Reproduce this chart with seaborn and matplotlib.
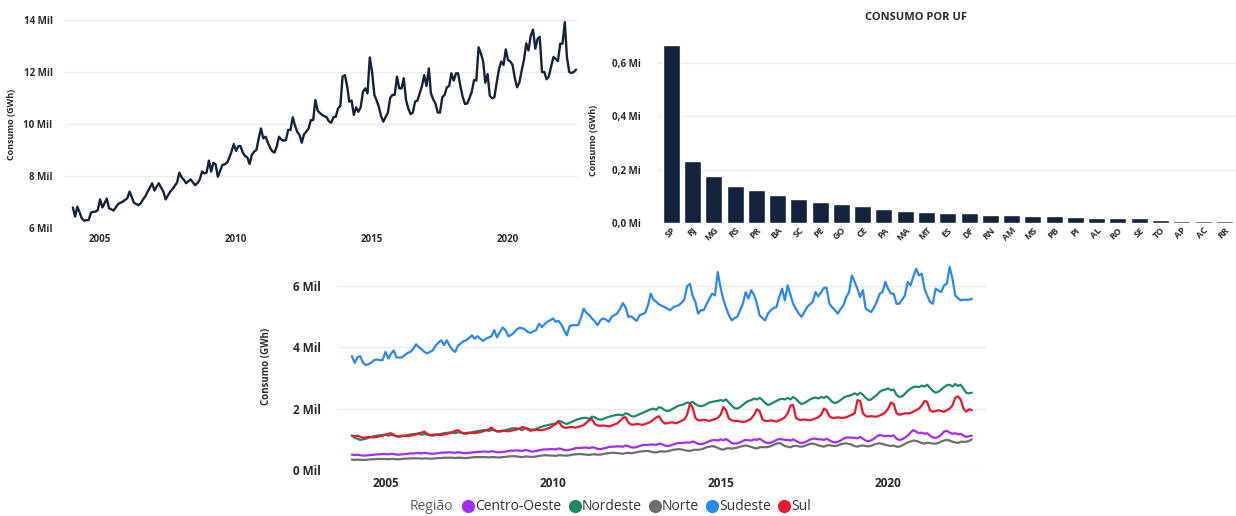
import matplotlib
matplotlib.use("Agg")
import matplotlib.pyplot as plt
import matplotlib.dates as mdates
from matplotlib.ticker import FuncFormatter, FixedLocator
from matplotlib.lines import Line2D
import numpy as np
import pandas as pd
import seaborn as sns

# ---------------- DATA (monthly, thousands of GWh = "Mil") ----------------
START = "2004-01-01"

total_mil = [
    6.79, 6.44, 6.82, 6.60, 6.37, 6.28, 6.30, 6.31, 6.59, 6.62, 6.63, 6.69,
    7.10, 6.79, 6.95, 7.13, 6.76, 6.72, 6.67, 6.80, 6.92, 6.97, 7.01, 7.08,
    7.14, 7.40, 7.20, 6.97, 6.92, 6.88, 6.95, 7.10, 7.22, 7.40, 7.55, 7.72,
    7.44, 7.60, 7.72, 7.55, 7.40, 7.10, 7.25, 7.40, 7.50, 7.62, 7.75, 8.13,
    7.95, 7.85, 7.72, 7.80, 7.87, 7.75, 7.65, 7.72, 7.87, 8.17, 8.10, 8.13,
    8.59, 8.17, 8.51, 8.45, 7.97, 8.20, 8.42, 8.45, 8.51, 8.70, 8.94, 9.23,
    8.97, 9.15, 9.15, 8.90, 8.77, 8.72, 8.46, 8.81, 8.94, 9.00, 9.45, 9.83,
    9.45, 9.51, 9.30, 9.10, 8.95, 8.90, 9.13, 9.51, 9.40, 9.36, 9.38, 9.77,
    9.77, 10.26, 9.95, 9.70, 9.58, 9.28, 9.60, 9.71, 9.83, 10.15, 10.15, 10.92,
    10.51, 10.42, 10.35, 10.30, 10.26, 10.10, 10.05, 10.26, 10.28, 10.60, 10.69, 11.82,
    11.88, 11.44, 10.86, 10.90, 10.35, 10.64, 10.47, 10.64, 11.24, 11.37, 11.18, 12.56,
    12.01, 11.12, 10.92, 10.67, 10.31, 10.09, 10.26, 10.44, 11.00, 11.12, 11.12, 11.82,
    11.37, 11.37, 11.76, 10.92, 10.60, 10.38, 10.44, 10.86, 10.90, 11.18, 11.46, 11.88,
    11.46, 12.14, 11.18, 10.95, 10.79, 10.44, 10.44, 11.03, 11.12, 11.41, 11.46, 11.95,
    11.67, 11.95, 11.95, 11.46, 11.05, 10.77, 10.79, 11.00, 11.24, 11.69, 11.67, 12.95,
    12.72, 12.40, 11.59, 11.92, 11.08, 10.99, 11.03, 11.59, 12.10, 12.40, 12.27, 12.87,
    12.46, 12.40, 12.27, 11.76, 11.41, 11.60, 12.05, 12.46, 13.10, 12.83, 13.40, 13.63,
    12.90, 13.28, 13.35, 12.00, 12.00, 11.72, 11.83, 12.20, 12.58, 12.50, 12.42, 13.09,
    13.09, 13.92, 12.58, 12.00, 11.96, 12.00, 12.09,
]

sudeste = [
    3.71, 3.49, 3.67, 3.71, 3.50, 3.42, 3.45, 3.50, 3.58, 3.60, 3.58, 3.58,
    3.85, 3.63, 3.78, 3.90, 3.67, 3.67, 3.67, 3.75, 3.82, 3.85, 3.95, 4.10,
    4.00, 3.93, 3.85, 3.80, 3.85, 3.90, 4.05, 4.15, 4.23, 4.07, 4.23, 4.05,
    3.92, 3.85, 4.05, 4.12, 4.20, 4.23, 4.30, 4.39, 4.28, 4.36, 4.28, 4.21,
    4.28, 4.32, 4.36, 4.56, 4.32, 4.50, 4.64, 4.56, 4.36, 4.40, 4.47, 4.58,
    4.64, 4.62, 4.58, 4.50, 4.47, 4.52, 4.56, 4.77, 4.66, 4.75, 4.83, 4.88,
    4.94, 4.83, 4.86, 4.75, 4.56, 4.39, 4.69, 4.72, 4.72, 4.72, 4.95, 5.26,
    5.12, 5.05, 4.94, 4.85, 4.72, 4.88, 4.94, 4.90, 4.83, 4.99, 5.05, 5.10,
    5.25, 5.44, 5.31, 4.99, 5.01, 4.93, 4.86, 5.04, 5.08, 5.12, 5.37, 5.75,
    5.55, 5.48, 5.40, 5.35, 5.31, 5.26, 5.21, 5.30, 5.34, 5.37, 5.45, 5.55,
    5.99, 6.07, 5.69, 5.48, 5.10, 5.21, 5.21, 5.40, 5.59, 5.75, 5.69, 6.45,
    5.94, 5.55, 5.30, 5.05, 4.88, 4.95, 4.99, 5.20, 5.42, 5.80, 5.59, 5.86,
    5.70, 5.42, 5.04, 4.95, 4.88, 5.10, 5.21, 5.28, 5.31, 5.64, 5.91, 5.53,
    6.02, 5.70, 5.42, 5.25, 5.10, 4.99, 5.15, 5.31, 5.40, 5.48, 5.80, 5.66,
    5.80, 5.94, 5.94, 5.42, 5.30, 5.21, 5.10, 5.25, 5.37, 5.64, 5.80, 6.34,
    6.13, 5.90, 5.64, 5.86, 5.26, 5.20, 5.15, 5.30, 5.50, 5.75, 5.80, 6.13,
    5.90, 5.75, 5.75, 5.42, 5.42, 5.55, 5.69, 6.13, 6.02, 6.30, 6.56, 6.34,
    6.40, 5.90, 5.69, 5.48, 5.42, 5.91, 5.85, 5.80, 6.02, 6.07, 6.62, 6.24,
    5.69, 5.60, 5.53, 5.55, 5.55, 5.55, 5.58,
]

nordeste = [
    1.12, 1.05, 1.02, 0.98, 1.00, 1.02, 1.05, 1.08, 1.10, 1.12, 1.13, 1.14,
    1.15, 1.12, 1.14, 1.13, 1.10, 1.08, 1.10, 1.12, 1.14, 1.16, 1.17, 1.18,
    1.18, 1.15, 1.17, 1.16, 1.13, 1.12, 1.14, 1.16, 1.18, 1.20, 1.21, 1.22,
    1.22, 1.20, 1.23, 1.22, 1.19, 1.18, 1.20, 1.23, 1.25, 1.27, 1.28, 1.30,
    1.30, 1.27, 1.30, 1.30, 1.26, 1.25, 1.27, 1.30, 1.32, 1.35, 1.36, 1.36,
    1.33, 1.30, 1.36, 1.35, 1.32, 1.31, 1.34, 1.38, 1.41, 1.44, 1.46, 1.48,
    1.50, 1.52, 1.60, 1.58, 1.53, 1.50, 1.54, 1.58, 1.62, 1.66, 1.68, 1.70,
    1.70, 1.66, 1.74, 1.72, 1.66, 1.64, 1.66, 1.70, 1.73, 1.76, 1.78, 1.80,
    1.80, 1.78, 1.85, 1.82, 1.76, 1.74, 1.78, 1.82, 1.86, 1.90, 1.94, 1.98,
    2.00, 1.96, 2.05, 2.02, 1.95, 1.92, 1.95, 2.00, 2.05, 2.10, 2.12, 2.15,
    2.20, 2.18, 2.22, 2.15, 2.10, 2.08, 2.10, 2.15, 2.20, 2.22, 2.24, 2.25,
    2.28, 2.25, 2.30, 2.20, 2.10, 2.02, 2.00, 2.05, 2.12, 2.20, 2.25, 2.28,
    2.33, 2.30, 2.35, 2.28, 2.18, 2.12, 2.15, 2.20, 2.25, 2.30, 2.32, 2.30,
    2.35, 2.30, 2.38, 2.32, 2.22, 2.15, 2.18, 2.24, 2.30, 2.34, 2.36, 2.33,
    2.38, 2.35, 2.40, 2.32, 2.22, 2.18, 2.22, 2.28, 2.35, 2.40, 2.42, 2.45,
    2.50, 2.45, 2.52, 2.45, 2.35, 2.28, 2.30, 2.38, 2.45, 2.55, 2.60, 2.62,
    2.66, 2.60, 2.62, 2.45, 2.38, 2.40, 2.48, 2.58, 2.65, 2.70, 2.72, 2.70,
    2.75, 2.72, 2.78, 2.68, 2.58, 2.52, 2.55, 2.62, 2.70, 2.76, 2.78, 2.72,
    2.80, 2.74, 2.78, 2.65, 2.52, 2.50, 2.52,
]

sul = [
    1.12, 1.10, 1.12, 1.08, 1.05, 1.06, 1.08, 1.07, 1.06, 1.08, 1.10, 1.12,
    1.15, 1.18, 1.20, 1.15, 1.10, 1.10, 1.12, 1.11, 1.10, 1.12, 1.14, 1.16,
    1.20, 1.22, 1.25, 1.18, 1.14, 1.15, 1.16, 1.15, 1.14, 1.16, 1.18, 1.20,
    1.24, 1.27, 1.30, 1.24, 1.20, 1.20, 1.22, 1.21, 1.20, 1.22, 1.24, 1.26,
    1.30, 1.32, 1.38, 1.30, 1.26, 1.27, 1.28, 1.27, 1.26, 1.28, 1.30, 1.32,
    1.35, 1.40, 1.38, 1.32, 1.28, 1.30, 1.32, 1.30, 1.30, 1.32, 1.35, 1.38,
    1.45, 1.50, 1.58, 1.45, 1.38, 1.38, 1.40, 1.40, 1.38, 1.40, 1.43, 1.46,
    1.55, 1.62, 1.66, 1.50, 1.45, 1.44, 1.45, 1.44, 1.42, 1.45, 1.48, 1.52,
    1.60, 1.70, 1.72, 1.55, 1.48, 1.48, 1.50, 1.49, 1.47, 1.50, 1.53, 1.57,
    1.65, 1.72, 1.75, 1.60, 1.52, 1.52, 1.55, 1.55, 1.52, 1.56, 1.60, 1.65,
    1.80, 2.15, 2.05, 1.70, 1.62, 1.62, 1.64, 1.62, 1.60, 1.63, 1.66, 1.70,
    1.80, 2.05, 1.95, 1.68, 1.62, 1.60, 1.60, 1.58, 1.57, 1.58, 1.62, 1.68,
    1.80, 1.98, 1.92, 1.65, 1.60, 1.60, 1.62, 1.60, 1.58, 1.62, 1.66, 1.72,
    1.85, 2.10, 2.12, 1.70, 1.64, 1.63, 1.65, 1.63, 1.62, 1.65, 1.68, 1.72,
    1.80, 2.00, 1.95, 1.75, 1.70, 1.70, 1.72, 1.70, 1.70, 1.72, 1.76, 1.80,
    1.85, 2.28, 2.25, 1.85, 1.76, 1.74, 1.76, 1.74, 1.74, 1.78, 1.82, 1.88,
    2.00, 2.20, 2.15, 1.85, 1.80, 1.82, 1.85, 1.84, 1.86, 1.90, 1.95, 2.00,
    2.10, 2.25, 2.22, 1.95, 1.90, 1.92, 1.95, 1.92, 1.90, 1.95, 2.00, 2.10,
    2.36, 2.40, 2.30, 2.00, 1.90, 1.98, 1.95,
]

centro_oeste = [
    0.50, 0.49, 0.50, 0.48, 0.47, 0.47, 0.48, 0.49, 0.50, 0.51, 0.51, 0.52,
    0.52, 0.51, 0.53, 0.52, 0.50, 0.50, 0.51, 0.52, 0.53, 0.54, 0.54, 0.55,
    0.55, 0.54, 0.56, 0.55, 0.53, 0.53, 0.54, 0.55, 0.56, 0.57, 0.57, 0.58,
    0.57, 0.56, 0.58, 0.57, 0.55, 0.55, 0.56, 0.57, 0.58, 0.59, 0.59, 0.60,
    0.60, 0.59, 0.61, 0.60, 0.58, 0.58, 0.59, 0.60, 0.62, 0.63, 0.63, 0.64,
    0.63, 0.62, 0.65, 0.64, 0.61, 0.60, 0.62, 0.64, 0.66, 0.67, 0.67, 0.68,
    0.68, 0.67, 0.70, 0.69, 0.65, 0.64, 0.66, 0.68, 0.71, 0.72, 0.72, 0.73,
    0.73, 0.71, 0.74, 0.73, 0.69, 0.68, 0.70, 0.72, 0.75, 0.76, 0.76, 0.77,
    0.77, 0.76, 0.80, 0.78, 0.74, 0.73, 0.75, 0.78, 0.81, 0.82, 0.82, 0.83,
    0.83, 0.82, 0.86, 0.84, 0.80, 0.78, 0.80, 0.83, 0.86, 0.88, 0.88, 0.89,
    0.90, 0.89, 0.93, 0.90, 0.85, 0.84, 0.86, 0.90, 0.94, 0.97, 0.98, 0.96,
    1.00, 0.97, 1.01, 0.95, 0.88, 0.86, 0.87, 0.90, 0.95, 0.98, 0.97, 0.96,
    1.00, 0.98, 1.02, 0.96, 0.90, 0.88, 0.89, 0.93, 0.98, 1.01, 1.00, 0.98,
    0.98, 0.96, 1.00, 0.95, 0.90, 0.88, 0.90, 0.94, 0.99, 1.02, 1.02, 1.00,
    1.00, 0.98, 1.02, 0.97, 0.92, 0.90, 0.92, 0.96, 1.02, 1.06, 1.06, 1.05,
    1.05, 1.03, 1.08, 1.02, 0.96, 0.94, 0.97, 1.02, 1.10, 1.14, 1.12, 1.10,
    1.12, 1.10, 1.13, 1.02, 0.98, 1.00, 1.05, 1.12, 1.22, 1.30, 1.25, 1.20,
    1.22, 1.18, 1.20, 1.12, 1.06, 1.05, 1.08, 1.15, 1.25, 1.28, 1.22, 1.18,
    1.20, 1.16, 1.18, 1.12, 1.08, 1.10, 1.12,
]

norte = [
    0.34, 0.33, 0.34, 0.33, 0.33, 0.33, 0.34, 0.35, 0.35, 0.36, 0.36, 0.36,
    0.36, 0.35, 0.36, 0.36, 0.35, 0.35, 0.36, 0.37, 0.37, 0.38, 0.38, 0.38,
    0.38, 0.37, 0.38, 0.38, 0.37, 0.37, 0.38, 0.39, 0.39, 0.40, 0.40, 0.40,
    0.40, 0.39, 0.40, 0.40, 0.39, 0.39, 0.40, 0.41, 0.42, 0.42, 0.42, 0.42,
    0.42, 0.41, 0.42, 0.42, 0.41, 0.41, 0.42, 0.43, 0.44, 0.45, 0.45, 0.44,
    0.43, 0.42, 0.44, 0.44, 0.43, 0.43, 0.44, 0.46, 0.47, 0.48, 0.48, 0.47,
    0.47, 0.46, 0.48, 0.48, 0.47, 0.47, 0.48, 0.50, 0.51, 0.52, 0.52, 0.51,
    0.50, 0.49, 0.51, 0.51, 0.50, 0.50, 0.52, 0.54, 0.55, 0.56, 0.56, 0.55,
    0.54, 0.53, 0.55, 0.56, 0.55, 0.56, 0.58, 0.60, 0.61, 0.62, 0.62, 0.60,
    0.58, 0.57, 0.60, 0.61, 0.60, 0.61, 0.63, 0.66, 0.67, 0.68, 0.67, 0.65,
    0.63, 0.62, 0.65, 0.66, 0.66, 0.67, 0.70, 0.74, 0.76, 0.78, 0.76, 0.72,
    0.68, 0.66, 0.70, 0.71, 0.70, 0.71, 0.73, 0.76, 0.78, 0.80, 0.78, 0.75,
    0.72, 0.70, 0.74, 0.75, 0.74, 0.75, 0.78, 0.82, 0.86, 0.88, 0.84, 0.78,
    0.76, 0.74, 0.78, 0.79, 0.77, 0.76, 0.78, 0.82, 0.85, 0.86, 0.84, 0.80,
    0.78, 0.76, 0.80, 0.81, 0.79, 0.78, 0.80, 0.84, 0.86, 0.87, 0.85, 0.82,
    0.78, 0.76, 0.79, 0.80, 0.78, 0.77, 0.79, 0.83, 0.86, 0.87, 0.85, 0.82,
    0.80, 0.78, 0.80, 0.76, 0.76, 0.80, 0.85, 0.90, 0.93, 0.96, 0.95, 0.92,
    0.88, 0.86, 0.89, 0.88, 0.86, 0.86, 0.88, 0.93, 0.96, 0.98, 0.96, 0.92,
    0.90, 0.88, 0.92, 0.92, 0.92, 0.95, 1.00,
]

uf_labels = ["SP", "RJ", "MG", "RS", "PR", "BA", "SC", "PE", "GO", "CE", "PA", "MA", "MT", "ES",
             "DF", "RN", "AM", "MS", "PB", "PI", "AL", "RO", "SE", "TO", "AP", "AC", "RR"]
uf_consumo_mi = [0.669, 0.231, 0.178, 0.138, 0.122, 0.106, 0.090, 0.077, 0.072, 0.063, 0.053,
                 0.044, 0.040, 0.038, 0.037, 0.031, 0.030, 0.028, 0.027, 0.023, 0.020, 0.019,
                 0.017, 0.012, 0.007, 0.006, 0.006]

region_names = ["Centro-Oeste", "Nordeste", "Norte", "Sudeste", "Sul"]
region_values = [centro_oeste, nordeste, norte, sudeste, sul]

# ---------------- STYLE ----------------
NAVY = "#13233d"
palette = {"Centro-Oeste": "#a52cf2", "Nordeste": "#1b8a6b", "Norte": "#6e6e6e",
           "Sudeste": "#2b88ee", "Sul": "#e8192c"}
TXT = "#2b2b2b"
GRID = "#ebebeb"

sns.set_theme(style="white")
plt.rcParams['font.family'] = ['Open Sans', 'DejaVu Sans']

W, H = 1236, 516
fig = plt.figure(figsize=(W / 100, H / 100), dpi=100)


def ax_px(x0, y0, x1, y1):
    return fig.add_axes([x0 / W, 1 - y1 / H, (x1 - x0) / W, (y1 - y0) / H])


def clean(ax, fs, weight="bold"):
    for s in ax.spines.values():
        s.set_visible(False)
    ax.tick_params(length=0, labelsize=fs, colors=TXT)
    for lab in ax.get_xticklabels() + ax.get_yticklabels():
        lab.set_fontweight(weight)
    ax.grid(False)
    ax.yaxis.grid(True, color=GRID, lw=0.9)
    ax.set_axisbelow(True)


dates = pd.date_range(START, periods=len(total_mil), freq="MS")

# ---------- Top-left: total consumption ----------
ax1 = ax_px(65, 20, 578, 228)
sns.lineplot(x=dates, y=total_mil, ax=ax1, color=NAVY, lw=1.7)
ax1.set_ylim(6, 14)
ax1.yaxis.set_major_locator(FixedLocator([6, 8, 10, 12, 14]))
ax1.yaxis.set_major_formatter(FuncFormatter(lambda v, p: f"{v:.0f} Mil"))
ax1.set_xlim(pd.Timestamp("2003-09-18"), pd.Timestamp("2022-07-28"))
ax1.xaxis.set_major_locator(mdates.YearLocator(5))
ax1.xaxis.set_major_formatter(mdates.DateFormatter("%Y"))
ax1.set_xlabel("")
ax1.set_ylabel("Consumo (GWh)", fontsize=6.5, fontweight="bold", color=TXT)
ax1.yaxis.set_label_coords((16 - 65) / 513, 0.5)
clean(ax1, 7)
ax1.tick_params(axis="y", pad=9)
ax1.tick_params(axis="x", pad=4)

# ---------- Top-right: consumption by UF ----------
ax2 = ax_px(658, 39, 1236, 223)
df_uf = pd.DataFrame({"UF": uf_labels, "Consumo": uf_consumo_mi})
sns.barplot(data=df_uf, x="UF", y="Consumo", order=uf_labels, color=NAVY, width=0.8,
            saturation=1, ax=ax2)
ax2.set_xlim(-0.62, 26.55)
ax2.set_ylim(0, 0.69)
ax2.yaxis.set_major_locator(FixedLocator([0, 0.2, 0.4, 0.6]))
ax2.yaxis.set_major_formatter(FuncFormatter(lambda v, p: f"{v:.1f} Mi".replace(".", ",")))
ax2.set_xlabel("")
ax2.set_ylabel("Consumo (GWh)", fontsize=6.5, fontweight="bold", color=TXT)
ax2.yaxis.set_label_coords((598 - 658) / 578, 0.45)
clean(ax2, 7)
ax2.tick_params(axis="y", pad=12)
plt.setp(ax2.get_xticklabels(), rotation=45, ha="right", rotation_mode="anchor", fontsize=6.5)
ax2.tick_params(axis="x", pad=2)
fig.text(916 / W, 1 - 17 / H, "CONSUMO POR UF", ha="center", va="center",
         fontsize=8, fontweight="bold", color=TXT)

# ---------- Bottom: consumption by region ----------
ax3 = ax_px(338, 262, 987, 470)
long = pd.concat([
    pd.DataFrame({"Data": dates, "Consumo": vals, "Região": name})
    for name, vals in zip(region_names, region_values)
], ignore_index=True)
sns.lineplot(data=long, x="Data", y="Consumo", hue="Região", hue_order=region_names,
             palette=palette, lw=1.6, ax=ax3, legend=False)
ax3.set_ylim(0, 6.78)
ax3.yaxis.set_major_locator(FixedLocator([0, 2, 4, 6]))
ax3.yaxis.set_major_formatter(FuncFormatter(lambda v, p: f"{v:.0f} Mil"))
ax3.set_xlim(pd.Timestamp("2003-08-03"), pd.Timestamp("2022-12-13"))
ax3.xaxis.set_major_locator(mdates.YearLocator(5))
ax3.xaxis.set_major_formatter(mdates.DateFormatter("%Y"))
ax3.set_xlabel("")
ax3.set_ylabel("Consumo (GWh)", fontsize=7, fontweight="bold", color=TXT)
ax3.yaxis.set_label_coords((272 - 338) / 649, 0.5)
clean(ax3, 8.5)
ax3.tick_params(axis="y", pad=12)
ax3.tick_params(axis="x", pad=5)

# legend
fig.text(410 / W, 1 - 507 / H, "Região", ha="left", va="center", fontsize=10, color="#5f5f5f")
handles = [Line2D([], [], marker="o", ls="none", markersize=8.5, color=palette[n]) for n in region_names]
fig.legend(handles, region_names, loc="center left", bbox_to_anchor=(462 / W, 1 - 507 / H),
           ncol=5, frameon=False, fontsize=10, handletextpad=0.05, columnspacing=0.5,
           handlelength=0.9, borderaxespad=0, borderpad=0, labelcolor="#333333")

fig.savefig("out.png", dpi=100)
